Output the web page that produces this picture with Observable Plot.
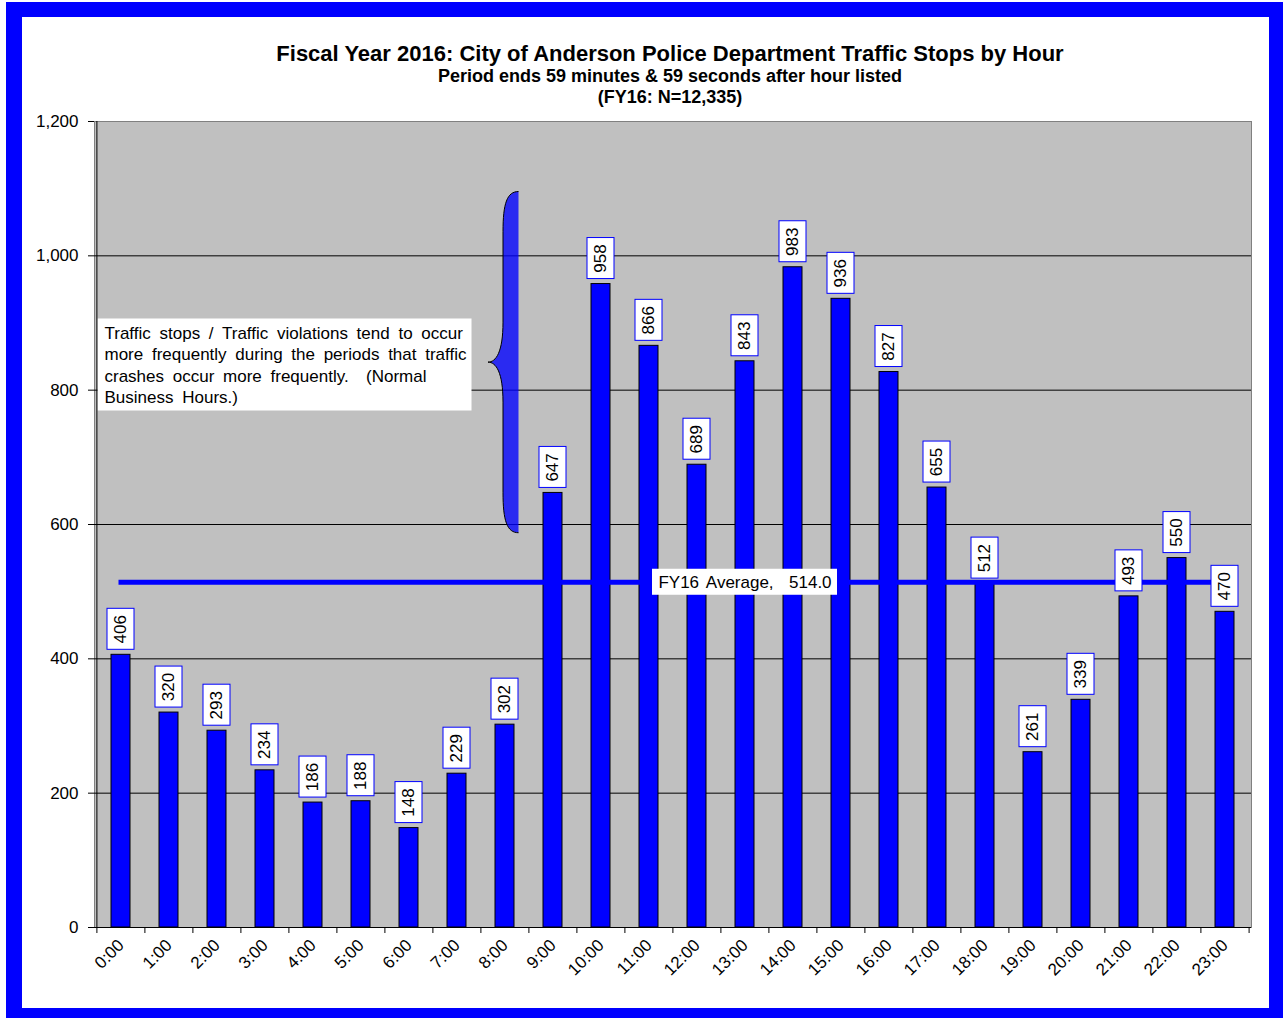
<!DOCTYPE html>
<html>
<head>
<meta charset="utf-8">
<script src="https://cdn.jsdelivr.net/npm/d3@7"></script>
<script src="https://cdn.jsdelivr.net/npm/@observablehq/plot@0.6"></script>
<style>
  body { margin: 0; background: #fff; }
  #wrap { position: relative; width: 1283px; height: 1019px; overflow: hidden; font-family: "Liberation Sans", Arial, sans-serif; }
  #chart { position: absolute; left: 0; top: 0; }
  #title { position: absolute; left: 170px; width: 1000px; top: 42px; text-align: center; font-weight: bold; color: #000; }
  #title .t1 { font-size: 22px; line-height: 24px; }
  #title .t2 { font-size: 18px; line-height: 21px; }
  #frame { position: absolute; left: 6px; top: 2px; width: 1277px; height: 1016px; box-sizing: border-box;
           border-style: solid; border-color: #0000ff; border-width: 15px 14px 10px 16px; pointer-events: none; }
</style>
</head>
<body>
<div id="wrap">
  <div id="chart"></div>
  <div id="title"></div>
  <div id="frame"></div>
</div>
<script>
// ---- data ----
const titleText = "Fiscal Year 2016: City of Anderson Police Department Traffic Stops by Hour";
const subtitleText = "Period ends 59 minutes & 59 seconds after hour listed";
const countText = "(FY16: N=12,335)";

const hours = ["0:00","1:00","2:00","3:00","4:00","5:00","6:00","7:00","8:00","9:00","10:00","11:00",
               "12:00","13:00","14:00","15:00","16:00","17:00","18:00","19:00","20:00","21:00","22:00","23:00"];
const stops = [406,320,293,234,186,188,148,229,302,647,958,866,689,843,983,936,827,655,512,261,339,493,550,470];
const yTicks = [0,200,400,600,800,1000,1200];
const gridValues = [200,400,600,800,1000];
const average = 514.0;
const averageLabel = "FY16 Average,  514.0";
const averageLabelAt = "13:00";
const noteLines = [
  "Traffic stops / Traffic violations tend to occur",
  "more frequently during the periods that traffic",
  "crashes occur more frequently.  (Normal",
  "Business Hours.)"
];
const braceAt = "8:00";
const braceTop = 1095, braceTip = 841, braceBottom = 587;

const data = hours.map((h, i) => ({hour: h, stops: stops[i]}));
const avgData = [{hour: hours[0], v: average}, {hour: hours[hours.length - 1], v: average}];

// ---- title ----
document.getElementById("title").innerHTML =
  `<div class="t1">${titleText}</div><div class="t2">${subtitleText}</div><div class="t2">${countText}</div>`;

// ---- layout ----
const W = 1283, H = 1019, ML = 94, MR = 32, MT = 121, MB = 92;
const step = (W - ML - MR) / hours.length;

function braceMark(...args) {
  const scales = args.find(a => a && typeof a.x === "function" && typeof a.y === "function");
  const x = scales.x, y = scales.y;
  const bw = x.bandwidth ? x.bandwidth() : 0;
  const cx = x(braceAt) + bw / 2;
  const xr = cx + 14, xv = cx - 1.5, xt = cx - 16.5;
  const yT = y(braceTop), yM = y(braceTip), yB = y(braceBottom);
  const r = 40;
  const d = `M${xr},${yT} C${xv + 4},${yT} ${xv},${yT + 12} ${xv},${yT + r} ` +
            `L${xv},${yM - r} C${xv},${yM - 10} ${xt + 8},${yM} ${xt},${yM} ` +
            `C${xt + 8},${yM} ${xv},${yM + 10} ${xv},${yM + r} ` +
            `L${xv},${yB - r} C${xv},${yB - 12} ${xv + 4},${yB} ${xr},${yB}`;
  const ns = "http://www.w3.org/2000/svg";
  const g = document.createElementNS(ns, "g");
  const fill = document.createElementNS(ns, "path");
  fill.setAttribute("d", d + " Z");
  fill.setAttribute("fill", "#0000ff");
  fill.setAttribute("fill-opacity", "0.78");
  fill.setAttribute("stroke", "none");
  const line = document.createElementNS(ns, "path");
  line.setAttribute("d", d);
  line.setAttribute("fill", "none");
  line.setAttribute("stroke", "black");
  line.setAttribute("stroke-width", "1");
  g.appendChild(fill);
  g.appendChild(line);
  return g;
}

const chart = Plot.plot({
  width: W, height: H,
  marginLeft: ML, marginRight: MR, marginTop: MT, marginBottom: MB,
  style: {background: "transparent", fontFamily: "'Liberation Sans', Arial, sans-serif", fontSize: "17px", color: "black", overflow: "visible"},
  x: {domain: hours, paddingInner: 0.6, paddingOuter: 0.3, axis: null},
  y: {domain: [0, 1200], axis: null},
  marks: [
    Plot.frame({fill: "#C0C0C0", stroke: "#808080"}),
    Plot.ruleY(gridValues, {stroke: "black", strokeWidth: 1}),
    Plot.barY(data, {x: "hour", y: "stops", fill: "#0000FF", stroke: "black", strokeWidth: 1}),
    Plot.line(avgData, {x: "hour", y: "v", stroke: "#0000FF", strokeWidth: 5, strokeLinecap: "square"}),
    Plot.barY([{hour: averageLabelAt, v: average}], {x: "hour", y1: "v", y2: "v", fill: "white",
      insetLeft: -83, insetRight: -83, insetTop: -13, insetBottom: -13}),
    Plot.text([{hour: averageLabelAt, v: average}], {x: "hour", y: "v", text: () => averageLabel, fill: "black"}),
    Plot.barY(data, {x: "hour", y1: "stops", y2: "stops", fill: "white", stroke: "#0000FF", strokeWidth: 1,
      insetLeft: -4, insetRight: -4, insetTop: -46, insetBottom: 5}),
    Plot.text(data, {x: "hour", y: "stops", text: d => String(d.stops), rotate: -90, dy: -25.5, fill: "black"}),
    Plot.frame({fill: "white", stroke: "none", insetLeft: 3, insetRight: 780, insetTop: 197, insetBottom: 517}),
    Plot.text([noteLines.join("\n")], {text: d => d, frameAnchor: "top-left", textAnchor: "start", lineAnchor: "top",
      dx: 10, dy: 202, lineHeight: 1.26, fill: "black"}),
    braceMark,
    Plot.ruleY([0], {stroke: "black"}),
    Plot.ruleX([hours[0]], {stroke: "black", dx: -step / 2}),
    Plot.ruleX(hours, {y1: 0, y2: 0, insetBottom: -6, dx: -step / 2, stroke: "black"}),
    Plot.ruleX([hours[hours.length - 1]], {y1: 0, y2: 0, insetBottom: -6, dx: step / 2, stroke: "black"}),
    Plot.axisY(yTicks, {tickFormat: d3.format(","), tickSize: 6, tickPadding: 10, label: null, stroke: "black"}),
    Plot.axisX({tickRotate: -45, tickSize: 0, tickPadding: 15, label: null})
  ]
});
// extra word spacing, as in the original spreadsheet text boxes
chart.querySelectorAll("text, tspan").forEach(el => {
  const t = el.textContent;
  if (el.tagName === "tspan" && noteLines.includes(t)) el.style.wordSpacing = "4px";
  if (el.tagName === "text" && t === averageLabel) el.style.wordSpacing = "3px";
});
document.getElementById("chart").appendChild(chart);
</script>
</body>
</html>
